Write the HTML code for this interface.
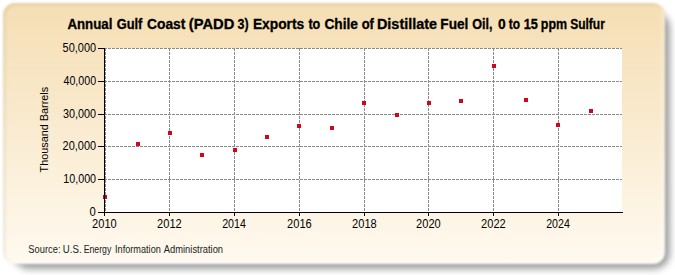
<!DOCTYPE html>
<html><head><meta charset="utf-8"><style>
html,body{margin:0;padding:0;width:675px;height:275px;overflow:hidden;background:#fff}
#shadow{position:absolute;left:13px;top:12px;width:657px;height:257px;border-radius:16px;background:rgba(0,0,0,0.38);filter:blur(3.5px)}
#frame{position:absolute;left:2.5px;top:2.5px;width:662px;height:261px;border-radius:12px;background:linear-gradient(to bottom,#F5DEB3,#FFFAF0);box-shadow:inset 2px 2px 3px rgba(90,95,80,0.12),inset -5px -5px 4px -2px rgba(255,255,255,0.35);filter:blur(1.1px)}
svg{position:absolute;left:0;top:0}
text{font-family:"Liberation Sans",sans-serif;fill:#000}
.title{font-size:13.8px;font-weight:bold;stroke:#000;stroke-width:0.3px}
.src{font-size:10.0px;fill:#222}
.ax{font-size:12.5px}
.yt{font-size:11.8px}
</style></head><body>
<div id="shadow"></div>
<div id="frame"></div>
<svg width="675" height="275" viewBox="0 0 675 275">
<g shape-rendering="crispEdges">
<rect x="104" y="48" width="518" height="164" fill="#fff"/>
<line x1="104" y1="48.5" x2="622" y2="48.5" stroke="#8a8a8a" stroke-dasharray="3,1"/>
<line x1="104" y1="81.5" x2="622" y2="81.5" stroke="#8a8a8a" stroke-dasharray="3,1"/>
<line x1="104" y1="114.5" x2="622" y2="114.5" stroke="#8a8a8a" stroke-dasharray="3,1"/>
<line x1="104" y1="146.5" x2="622" y2="146.5" stroke="#8a8a8a" stroke-dasharray="3,1"/>
<line x1="104" y1="179.5" x2="622" y2="179.5" stroke="#8a8a8a" stroke-dasharray="3,1"/>
<line x1="105.5" y1="48" x2="105.5" y2="212" stroke="#8a8a8a" stroke-dasharray="3,1"/>
<line x1="169.5" y1="48" x2="169.5" y2="212" stroke="#8a8a8a" stroke-dasharray="3,1"/>
<line x1="234.5" y1="48" x2="234.5" y2="212" stroke="#8a8a8a" stroke-dasharray="3,1"/>
<line x1="299.5" y1="48" x2="299.5" y2="212" stroke="#8a8a8a" stroke-dasharray="3,1"/>
<line x1="364.5" y1="48" x2="364.5" y2="212" stroke="#8a8a8a" stroke-dasharray="3,1"/>
<line x1="428.5" y1="48" x2="428.5" y2="212" stroke="#8a8a8a" stroke-dasharray="3,1"/>
<line x1="493.5" y1="48" x2="493.5" y2="212" stroke="#8a8a8a" stroke-dasharray="3,1"/>
<line x1="558.5" y1="48" x2="558.5" y2="212" stroke="#8a8a8a" stroke-dasharray="3,1"/>
<line x1="98" y1="48.5" x2="104" y2="48.5" stroke="#000"/>
<line x1="98" y1="81.5" x2="104" y2="81.5" stroke="#000"/>
<line x1="98" y1="114.5" x2="104" y2="114.5" stroke="#000"/>
<line x1="98" y1="146.5" x2="104" y2="146.5" stroke="#000"/>
<line x1="98" y1="179.5" x2="104" y2="179.5" stroke="#000"/>
<line x1="98" y1="212.5" x2="104" y2="212.5" stroke="#000"/>
<line x1="104.5" y1="213" x2="104.5" y2="216" stroke="#000"/>
<line x1="169.5" y1="213" x2="169.5" y2="216" stroke="#000"/>
<line x1="234.5" y1="213" x2="234.5" y2="216" stroke="#000"/>
<line x1="299.5" y1="213" x2="299.5" y2="216" stroke="#000"/>
<line x1="364.5" y1="213" x2="364.5" y2="216" stroke="#000"/>
<line x1="428.5" y1="213" x2="428.5" y2="216" stroke="#000"/>
<line x1="493.5" y1="213" x2="493.5" y2="216" stroke="#000"/>
<line x1="558.5" y1="213" x2="558.5" y2="216" stroke="#000"/>
<rect x="103" y="195" width="4" height="4" fill="#D4041C"/>
<rect x="136" y="142" width="4" height="4" fill="#D4041C"/>
<rect x="168" y="131" width="4" height="4" fill="#D4041C"/>
<rect x="200" y="153" width="4" height="4" fill="#D4041C"/>
<rect x="233" y="148" width="4" height="4" fill="#D4041C"/>
<rect x="265" y="135" width="4" height="4" fill="#D4041C"/>
<rect x="297" y="124" width="4" height="4" fill="#D4041C"/>
<rect x="330" y="126" width="4" height="4" fill="#D4041C"/>
<rect x="362" y="101" width="4" height="4" fill="#D4041C"/>
<rect x="395" y="113" width="4" height="4" fill="#D4041C"/>
<rect x="427" y="101" width="4" height="4" fill="#D4041C"/>
<rect x="459" y="99" width="4" height="4" fill="#D4041C"/>
<rect x="492" y="64" width="4" height="4" fill="#D4041C"/>
<rect x="524" y="98" width="4" height="4" fill="#D4041C"/>
<rect x="556" y="123" width="4" height="4" fill="#D4041C"/>
<rect x="589" y="109" width="4" height="4" fill="#D4041C"/>
<line x1="104.5" y1="48" x2="104.5" y2="213" stroke="#000"/>
<line x1="104" y1="212.5" x2="623" y2="212.5" stroke="#000"/>
</g>
<text x="67.40" y="28.5" class="title" textLength="45.04" lengthAdjust="spacingAndGlyphs">Annual</text>
<text x="116.67" y="28.5" class="title" textLength="25.75" lengthAdjust="spacingAndGlyphs">Gulf</text>
<text x="147.00" y="28.5" class="title" textLength="38.34" lengthAdjust="spacingAndGlyphs">Coast</text>
<text x="188.83" y="28.5" class="title" textLength="45.48" lengthAdjust="spacingAndGlyphs">(PADD</text>
<text x="237.60" y="28.5" class="title" textLength="11.05" lengthAdjust="spacingAndGlyphs">3)</text>
<text x="252.90" y="28.5" class="title" textLength="51.37" lengthAdjust="spacingAndGlyphs">Exports</text>
<text x="308.40" y="28.5" class="title" textLength="11.83" lengthAdjust="spacingAndGlyphs">to</text>
<text x="324.40" y="28.5" class="title" textLength="33.63" lengthAdjust="spacingAndGlyphs">Chile</text>
<text x="361.70" y="28.5" class="title" textLength="12.23" lengthAdjust="spacingAndGlyphs">of</text>
<text x="376.96" y="28.5" class="title" textLength="60.08" lengthAdjust="spacingAndGlyphs">Distillate</text>
<text x="440.31" y="28.5" class="title" textLength="28.06" lengthAdjust="spacingAndGlyphs">Fuel</text>
<text x="472.29" y="28.5" class="title" textLength="20.33" lengthAdjust="spacingAndGlyphs">Oil,</text>
<text x="498.00" y="28.5" class="title" textLength="7.69" lengthAdjust="spacingAndGlyphs">0</text>
<text x="508.70" y="28.5" class="title" textLength="11.23" lengthAdjust="spacingAndGlyphs">to</text>
<text x="523.78" y="28.5" class="title" textLength="14.15" lengthAdjust="spacingAndGlyphs">15</text>
<text x="540.80" y="28.5" class="title" textLength="26.32" lengthAdjust="spacingAndGlyphs">ppm</text>
<text x="570.13" y="28.5" class="title" textLength="34.75" lengthAdjust="spacingAndGlyphs">Sulfur</text>
<text x="28.37" y="252.6" class="src" textLength="32.17" lengthAdjust="spacingAndGlyphs">Source:</text>
<text x="62.83" y="252.6" class="src" textLength="18.80" lengthAdjust="spacingAndGlyphs">U.S.</text>
<text x="83.63" y="252.6" class="src" textLength="27.70" lengthAdjust="spacingAndGlyphs">Energy</text>
<text x="115.09" y="252.6" class="src" textLength="45.74" lengthAdjust="spacingAndGlyphs">Information</text>
<text x="163.80" y="252.6" class="src" textLength="59.24" lengthAdjust="spacingAndGlyphs">Administration</text>
<text x="62.62" y="51.6" class="ax" textLength="33.48" lengthAdjust="spacingAndGlyphs">50,000</text>
<text x="63.50" y="84.6" class="ax" textLength="32.60" lengthAdjust="spacingAndGlyphs">40,000</text>
<text x="62.93" y="117.6" class="ax" textLength="33.17" lengthAdjust="spacingAndGlyphs">30,000</text>
<text x="62.62" y="149.6" class="ax" textLength="33.48" lengthAdjust="spacingAndGlyphs">20,000</text>
<text x="63.24" y="182.6" class="ax" textLength="32.86" lengthAdjust="spacingAndGlyphs">10,000</text>
<text x="89.60" y="215.6" class="ax" textLength="6.26" lengthAdjust="spacingAndGlyphs">0</text>
<text x="92.12" y="227.6" class="ax" textLength="24.60" lengthAdjust="spacingAndGlyphs">2010</text>
<text x="157.12" y="227.6" class="ax" textLength="24.60" lengthAdjust="spacingAndGlyphs">2012</text>
<text x="222.15" y="227.6" class="ax" textLength="23.69" lengthAdjust="spacingAndGlyphs">2014</text>
<text x="287.12" y="227.6" class="ax" textLength="24.60" lengthAdjust="spacingAndGlyphs">2016</text>
<text x="352.12" y="227.6" class="ax" textLength="24.60" lengthAdjust="spacingAndGlyphs">2018</text>
<text x="416.12" y="227.6" class="ax" textLength="24.60" lengthAdjust="spacingAndGlyphs">2020</text>
<text x="481.12" y="227.6" class="ax" textLength="24.60" lengthAdjust="spacingAndGlyphs">2022</text>
<text x="546.15" y="227.6" class="ax" textLength="23.69" lengthAdjust="spacingAndGlyphs">2024</text>
<text transform="translate(47.8,172.4) rotate(-90)" class="yt" textLength="85.5" lengthAdjust="spacingAndGlyphs">Thousand Barrels</text>
</svg>
</body></html>
